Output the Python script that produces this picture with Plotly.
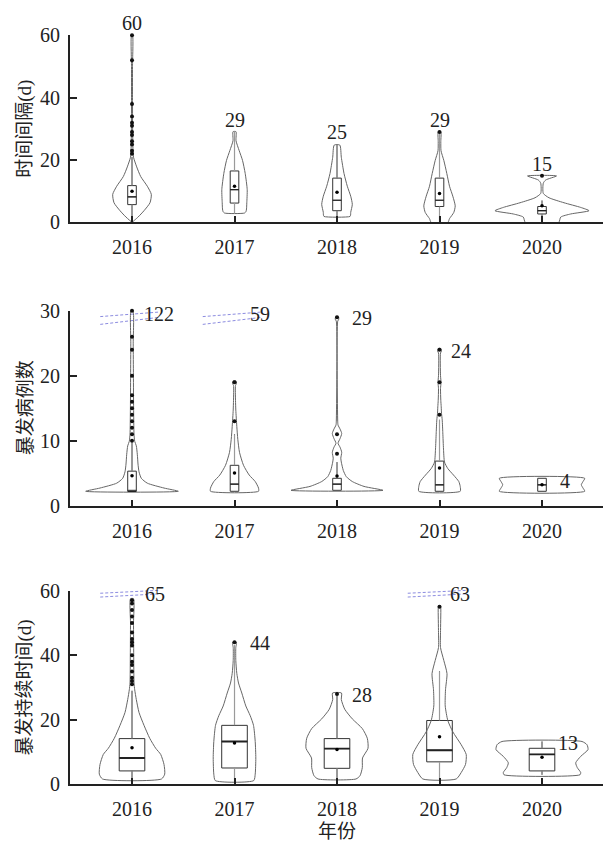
import plotly.graph_objects as go

# ---------------- data ----------------
YEARS = ["2016", "2017", "2018", "2019", "2020"]

# Panel 1 : 时间间隔(d)  -- violin outline profiles (value, half-width density)
GAP_VIOLIN_Y = [
    [0, 1.7, 3.75, 6.3, 9.0, 11.6, 14.7, 17.8, 20.9, 23, 26, 30, 40, 50, 60],
    [3.0, 3.5, 4.3, 6.3, 10.5, 15.7, 19.9, 23.0, 26.2, 29.1],
    [1.9, 2.4, 3.2, 5.8, 8.4, 11.6, 15.7, 20.9, 24.8],
    [0, 1.2, 3.2, 5.3, 8.4, 11.6, 15.7, 19.9, 23, 26, 29.1],
    [0, 1.7, 2.7, 3.75, 4.8, 6.3, 7.9, 9.3, 12.6, 13.6, 14.9],
]
GAP_VIOLIN_W = [
    [0, 6, 12, 18, 19.3, 15.3, 8.7, 4.7, 1.5, 1, 0.8, 0.6, 0.5, 0.5, 0.5],
    [10, 11.5, 12, 12.3, 12.7, 10.7, 8, 4.7, 1.5, 1.5],
    [13, 13.6, 13.7, 15.3, 13.7, 10.3, 7, 4.3, 2.8],
    [8.3, 10, 14.3, 15.7, 13.3, 10, 7.3, 4.3, 1.5, 1.3, 1.3],
    [16.7, 18.7, 28.7, 47, 38.7, 22, 7, 1.3, 1.3, 3.7, 14.5],
]
GAP_Q1 = [5.7, 6.2, 3.75, 5.1, 2.7]
GAP_MEDIAN = [8.2, 10.5, 7.1, 7.1, 3.75]
GAP_Q3 = [11.8, 16.5, 14.2, 14.2, 5.1]
GAP_MEAN = [10.0, 11.6, 9.7, 9.3, 5.3]
GAP_LOW = [0, 3.0, 1.9, 0, 0]
GAP_HIGH = [21, 29, 25, 29, 7]
GAP_OUTLIERS = [[22, 23, 25, 26, 28, 29, 31, 32, 34, 38, 52, 60], [], [], [29], [15]]
GAP_MAX = [60, 29, 25, 29, 15]

# Panel 2 : 暴发病例数
CASE_VIOLIN_Y = [
    [2.2, 2.7, 3.45, 4.2, 5.2, 6.4, 7.9, 9.2, 9.9, 11, 15, 20, 25, 30],
    [2.2, 2.7, 3.7, 4.7, 6.2, 8.2, 10.2, 12.2, 14.7, 16.2, 18.5, 18.8, 19.2],
    [2.35, 2.95, 3.7, 4.45, 5.4, 6.7, 7.3, 8.2, 9.0, 9.6, 10.3, 11.1, 11.8, 12.4, 13, 28.4, 28.7, 29.1],
    [2.2, 2.95, 3.7, 4.7, 5.7, 6.7, 8.7, 11.2, 13.2, 14.2, 15.2, 16.2, 18, 19, 20, 23.5, 23.8, 24.2],
    [2.2, 2.7, 3.2, 3.7, 4.2],
]
CASE_VIOLIN_W = [
    [46.3, 32, 15.3, 9.3, 7, 6, 5.3, 4.3, 2.7, 2, 1.6, 1.4, 1.2, 1],
    [24, 24, 20.7, 14.7, 9, 5, 3.3, 2.3, 1.3, 1, 1, 2, 1.5],
    [46, 27, 15.3, 9.3, 6.3, 4.3, 3.8, 4.7, 3, 1, 3, 4.7, 3, 1, 0.7, 0.7, 1.8, 1.2],
    [20.7, 20.7, 19.3, 14, 8.3, 5, 4, 3.3, 2.7, 2, 1.7, 1.3, 1, 1.5, 1, 1, 2, 1.2],
    [42.7, 41, 39.3, 41, 42.7],
]
CASE_Q1 = [2.2, 2.2, 2.35, 2.2, 2.2]
CASE_MEDIAN = [2.2, 3.3, 3.3, 3.2, 3.2]
CASE_Q3 = [5.3, 6.2, 4.2, 6.85, 4.2]
CASE_MEAN = [4.6, 5.0, 4.55, 5.8, 3.2]
CASE_LOW = [2.2, 2.2, 2.35, 2.2, 2.2]
CASE_HIGH = [9.7, 11, 6.7, 13.2, 4.2]
CASE_OUTLIERS = [[10, 11, 12, 13, 14, 15, 16, 17, 20, 24, 26, 30], [13, 19], [8, 11, 29], [14, 19, 24], []]
CASE_MAX = [122, 59, 29, 24, 4]

# Panel 3 : 暴发持续时间(d)
DUR_VIOLIN_Y = [
    [1.7, 3.2, 6.2, 9.3, 11.2, 14.3, 18.3, 22.3, 26.3, 29.3, 31.4, 40, 50, 57.5],
    [1.2, 3.2, 8.2, 13.3, 18.3, 21.3, 24.3, 28.3, 31.4, 34.4, 38.4, 42.4, 43.6, 44.2],
    [1.7, 2.7, 5.2, 8.2, 11.2, 14.3, 17.3, 20.3, 23.3, 26.3, 28.3],
    [1.7, 3.7, 6.2, 9.3, 12.3, 16.3, 19.8, 24.3, 29.3, 34.3, 38.4, 42.4, 47, 54.5, 55.3],
    [3.0, 3.7, 5.2, 6.7, 8.7, 10.8, 12.3, 13.3],
]
DUR_VIOLIN_W = [
    [29.5, 32.7, 32, 28.7, 23.7, 17.7, 12, 7, 4.3, 2.7, 2, 1.7, 1.5, 1.5],
    [19.2, 20.7, 21.3, 20.7, 19, 15.7, 11.3, 7.3, 4, 2.3, 1.3, 1.3, 2, 1.5],
    [19, 23, 25.3, 25.5, 31, 30.3, 25.3, 15.3, 7.7, 4.3, 4.5],
    [16.7, 21.7, 26, 26.7, 21.7, 13.3, 8.3, 5.7, 6, 7.5, 4.3, 1, 1, 1.3, 1],
    [38, 38.7, 35.3, 33.7, 38.7, 46, 45, 40],
]
DUR_Q1 = [4.2, 5.1, 5.0, 7.0, 4.2]
DUR_MEDIAN = [8.2, 13.3, 11.1, 10.6, 9.3]
DUR_Q3 = [14.2, 18.3, 14.2, 19.8, 11.2]
DUR_MEAN = [11.4, 12.8, 10.8, 14.8, 8.4]
DUR_LOW = [1.7, 1.2, 1.7, 1.7, 3.0]
DUR_HIGH = [29, 43, 27.5, 35, 13.3]
DUR_OUTLIERS = [[31, 32, 33, 35, 37, 38, 40, 43, 44, 45, 47, 50, 52, 54, 56, 57], [44], [28], [55], []]
DUR_MAX = [65, 44, 28, 63, 13]

# ---------------- layout / style ----------------
W, H = 606, 851
X_RANGE = [-0.605, 4.595]
X_DOMAIN = [70 / W, 603 / W]
PX_PER_CAT = 533 / 5.2
VIOLIN_SCALE = 1 / PX_PER_CAT

FONT = "Liberation Serif, Noto Sans CJK SC, serif"
NUM_FONT = "Liberation Serif"
INK = "#222222"
OUTLINE = "#666666"
WHISKER = "#9a9a9a"
BREAK_COLOR = "#8c8ce0"

PANELS = [
    dict(vy=GAP_VIOLIN_Y, vw=GAP_VIOLIN_W, q1=GAP_Q1, med=GAP_MEDIAN, q3=GAP_Q3,
         mean=GAP_MEAN, lo=GAP_LOW, hi=GAP_HIGH, out=GAP_OUTLIERS, mx=GAP_MAX,
         ymax=60, dtick=20, top_px=25, bot_px=217, title="时间间隔(d)",
         box_w=8.6, med_w=1.2, label="above", label_dx=[0, 0, 0, 0, 0]),
    dict(vy=CASE_VIOLIN_Y, vw=CASE_VIOLIN_W, q1=CASE_Q1, med=CASE_MEDIAN, q3=CASE_Q3,
         mean=CASE_MEAN, lo=CASE_LOW, hi=CASE_HIGH, out=CASE_OUTLIERS, mx=CASE_MAX,
         ymax=30, dtick=10, top_px=307.7, bot_px=507.7, title="暴发病例数",
         box_w=8.6, med_w=1.2, label="right", label_dx=[0.10, 0.127, 0.124, 0.095, 0.156],
         breaks=[(6, 1.3), (14, 6.7)]),
    dict(vy=DUR_VIOLIN_Y, vw=DUR_VIOLIN_W, q1=DUR_Q1, med=DUR_MEDIAN, q3=DUR_Q3,
         mean=DUR_MEAN, lo=DUR_LOW, hi=DUR_HIGH, out=DUR_OUTLIERS, mx=DUR_MAX,
         ymax=60, dtick=20, top_px=595, bot_px=794, title="暴发持续时间(d)",
         box_w=25.6, med_w=1.8, label="right", label_dx=[0.107, 0.127, 0.127, 0.08, 0.14],
         breaks=[(2.7, -0.3), (6.6, 3.3)]),
]

fig = go.Figure()
annotations = []
shapes = []
layout_axes = {}

for p, P in enumerate(PANELS):
    sfx = "" if p == 0 else str(p + 1)
    xa, ya = "x" + sfx, "y" + sfx
    ydom = [1 - P["bot_px"] / H, 1 - P["top_px"] / H]
    dom_px = P["bot_px"] - P["top_px"]

    for i in range(len(YEARS)):
        Y = P["vy"][i]
        Wd = P["vw"][i]
        xs = [i + w * VIOLIN_SCALE for w in Wd] + [i - w * VIOLIN_SCALE for w in reversed(Wd)] + [i + Wd[0] * VIOLIN_SCALE]
        ys = list(Y) + list(reversed(Y)) + [Y[0]]
        fig.add_trace(go.Scatter(x=xs, y=ys, mode="lines", xaxis=xa, yaxis=ya,
                                 line=dict(color=OUTLINE, width=1, shape="spline", smoothing=0.6),
                                 hoverinfo="skip", showlegend=False))
        bw = P["box_w"] * VIOLIN_SCALE
        fig.add_trace(go.Box(x=[i], q1=[P["q1"][i]], median=[P["med"][i]], q3=[P["q3"][i]],
                             lowerfence=[P["lo"][i]], upperfence=[P["hi"][i]],
                             width=bw, whiskerwidth=0, boxpoints=False,
                             fillcolor="white", line=dict(color="#333333", width=1),
                             xaxis=xa, yaxis=ya, showlegend=False, hoverinfo="skip"))
        # gray whiskers
        fig.add_trace(go.Scatter(x=[i, i, None, i, i],
                                 y=[P["lo"][i], P["q1"][i], None, P["q3"][i], P["hi"][i]],
                                 mode="lines", line=dict(color=WHISKER, width=1.2),
                                 xaxis=xa, yaxis=ya, showlegend=False, hoverinfo="skip"))
        # median
        fig.add_trace(go.Scatter(x=[i - bw / 2, i + bw / 2], y=[P["med"][i]] * 2, mode="lines",
                                 line=dict(color="#222222", width=P["med_w"]),
                                 xaxis=xa, yaxis=ya, showlegend=False, hoverinfo="skip"))
        # mean
        fig.add_trace(go.Scatter(x=[i], y=[P["mean"][i]], mode="markers",
                                 marker=dict(color="black", size=3.5),
                                 xaxis=xa, yaxis=ya, showlegend=False, hoverinfo="skip"))
        # outliers
        if P["out"][i]:
            fig.add_trace(go.Scatter(x=[i] * len(P["out"][i]), y=P["out"][i], mode="markers",
                                     marker=dict(color="#111111", size=4), cliponaxis=False,
                                     xaxis=xa, yaxis=ya, showlegend=False, hoverinfo="skip"))
        # max label
        v = P["mx"][i]
        if P["label"] == "above":
            annotations.append(dict(x=i, y=min(v, P["ymax"]), xref=xa, yref=ya, text=str(v),
                                    showarrow=False, xanchor="center", yanchor="bottom", yshift=-1,
                                    font=dict(family=NUM_FONT, size=20, color=INK)))
        else:
            yl = min(v, P["ymax"] * 0.99)
            annotations.append(dict(x=i + P["label_dx"][i], y=yl, xref=xa, yref=ya, text=str(v),
                                    showarrow=False, xanchor="left", yanchor="middle", yshift=-1,
                                    font=dict(family=NUM_FONT, size=20, color=INK)))
            if v > P["ymax"]:
                for (l_px, r_px) in P["breaks"]:
                    x0 = (i - 0.31 - X_RANGE[0]) / (X_RANGE[1] - X_RANGE[0])
                    x1 = (i + 0.27 - X_RANGE[0]) / (X_RANGE[1] - X_RANGE[0])
                    shapes.append(dict(type="line", xref=xa + " domain", yref=ya + " domain",
                                       x0=x0, x1=x1, y0=1 - l_px / dom_px, y1=1 - r_px / dom_px,
                                       line=dict(color=BREAK_COLOR, width=1, dash="3px,2px"), layer="below"))

    layout_axes["xaxis" + sfx] = dict(domain=X_DOMAIN, range=X_RANGE, anchor=ya,
                                      tickvals=list(range(len(YEARS))), ticktext=YEARS,
                                      showline=True, linecolor=INK, linewidth=2,
                                      ticks="inside", ticklen=6, tickwidth=2, tickcolor=INK,
                                      showgrid=False, zeroline=False, ticklabelstandoff=6,
                                      tickfont=dict(family=NUM_FONT, size=20, color=INK))
    layout_axes["yaxis" + sfx] = dict(domain=ydom, range=[0, P["ymax"]], anchor=xa,
                                      tick0=0, dtick=P["dtick"],
                                      showline=True, linecolor=INK, linewidth=2,
                                      ticks="inside", ticklen=7, tickwidth=2, tickcolor=INK,
                                      showgrid=False, zeroline=False, ticklabelstandoff=4,
                                      tickfont=dict(family=NUM_FONT, size=20, color=INK))
    annotations.append(dict(x=25 / W, y=(ydom[0] + ydom[1]) / 2, xref="paper", yref="paper",
                            text=P["title"], textangle=-90, showarrow=False,
                            xanchor="center", yanchor="middle",
                            font=dict(family=FONT, size=19, color=INK)))

annotations.append(dict(x=(X_DOMAIN[0] + X_DOMAIN[1]) / 2, y=1 - 842 / H, xref="paper", yref="paper",
                        text="年份", showarrow=False, xanchor="center", yanchor="middle",
                        font=dict(family=FONT, size=19, color=INK)))

fig.update_layout(width=W, height=H, autosize=False,
                  margin=dict(l=0, r=0, t=0, b=0),
                  paper_bgcolor="white", plot_bgcolor="white",
                  showlegend=False, annotations=annotations, shapes=shapes,
                  **layout_axes)

fig.write_html("out.html", config={"displayModeBar": False},
               post_script="document.body.style.margin='0px';document.body.style.overflow='hidden';")
